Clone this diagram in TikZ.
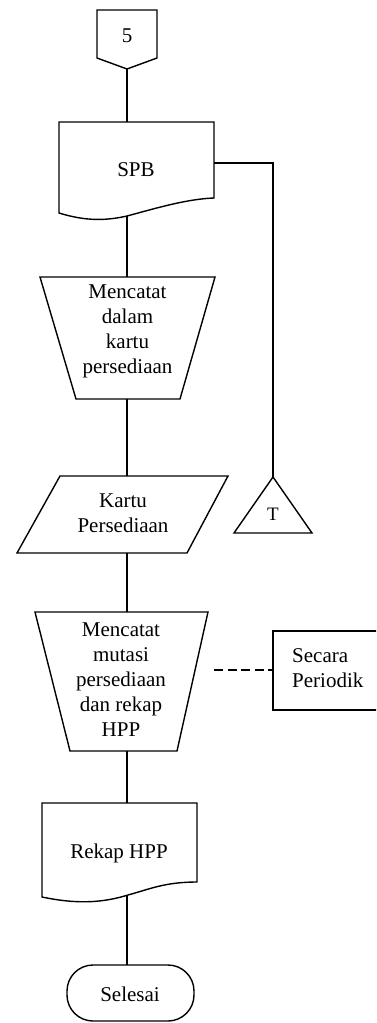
\documentclass[tikz,border=0pt]{standalone}
\usepackage{fontspec}
\setmainfont{Liberation Serif}
\begin{document}
\begin{tikzpicture}[x=1pt,y=-1pt,
  shape line/.style={line width=1.4pt, line join=miter},
  conn/.style={line width=1.3pt},
  lbl/.style={font=\fontsize{21}{25}\selectfont, align=center, inner sep=0pt}]
\useasboundingbox (0,0) rectangle (376,1023);
\clip (0,0) rectangle (376,1023);
% off-page connector 5
\draw[shape line] (97,10) -- (157,10) -- (157,58) -- (127,69) -- (97,58) -- cycle;
\node[lbl] (t5) at (127,36) {5};
\coordinate (p5) at (127,69);
% SPB document
\draw[shape line] (59,122) -- (214,122) -- (214,198)
  .. controls (185,199) and (150,210) .. (127,216)
  .. controls (105,221) and (85,221) .. (59,213) -- cycle;
\node[lbl] (tspb) at (136,170) {SPB};
\coordinate (spbT) at (127,122);
\coordinate (spbB) at (127,216);
\coordinate (spbR) at (214,163);
\coordinate (turn) at (273,163);
% triangle T
\draw[shape line] (273,477) -- (312,533) -- (234,533) -- cycle;
\node[lbl, font=\fontsize{19}{20}\selectfont] (tt) at (273,514) {T};
\coordinate (triT) at (273,477);
% manual operation 1
\draw[shape line] (40,277) -- (215,277) -- (180,399) -- (76,399) -- cycle;
\node[lbl] (tm1) at (127.5,331) {Mencatat\\dalam\\kartu\\persediaan};
\coordinate (m1T) at (127,277);
\coordinate (m1B) at (127,399);
% kartu persediaan (parallelogram)
\draw[shape line] (60,476) -- (228,476) -- (187,553) -- (17,553) -- cycle;
\node[lbl] (tk) at (123,513) {Kartu\\Persediaan};
\coordinate (kT) at (127,476);
\coordinate (kB) at (127,553);
% manual operation 2
\draw[shape line] (35,612) -- (208,612) -- (177,751) -- (70,751) -- cycle;
\node[lbl] (tm2) at (121,680) {Mencatat\\mutasi\\persediaan\\dan rekap\\HPP};
\coordinate (m2T) at (127,612);
\coordinate (m2B) at (127,751);
% Secara periodik annotation
\draw[shape line] (390,631) -- (273,631) -- (273,710) -- (390,710);
\node[lbl, align=left, anchor=west] (tsp) at (292,668) {Secara\\Periodik};
\coordinate (spL) at (273,670);
\coordinate (dashS) at (214,670);
% Rekap HPP document
\draw[shape line] (42,803) -- (197,803) -- (197,882)
  .. controls (165,882) and (150,889) .. (128,895)
  .. controls (105,902) and (80,905) .. (42,897) -- cycle;
\node[lbl] (trk) at (119,853) {Rekap HPP};
\coordinate (rT) at (127,803);
\coordinate (rB) at (127,895);
% Selesai terminal
\draw[shape line, rounded corners=26pt] (67,965) rectangle (194,1021);
\node[lbl] (tsel) at (130,994) {Selesai};
\coordinate (sT) at (127,965);
% connectors
\draw[conn] (p5) -- (spbT);
\draw[conn] (spbR) -- (turn) -- (triT);
\draw[conn] (spbB) -- (m1T);
\draw[conn] (m1B) -- (kT);
\draw[conn] (kB) -- (m2T);
\draw[conn] (m2B) -- (rT);
\draw[conn] (rB) -- (sT);
\draw[conn, dash pattern=on 9pt off 4.5pt] (dashS) -- (spL);
\end{tikzpicture}
\end{document}
